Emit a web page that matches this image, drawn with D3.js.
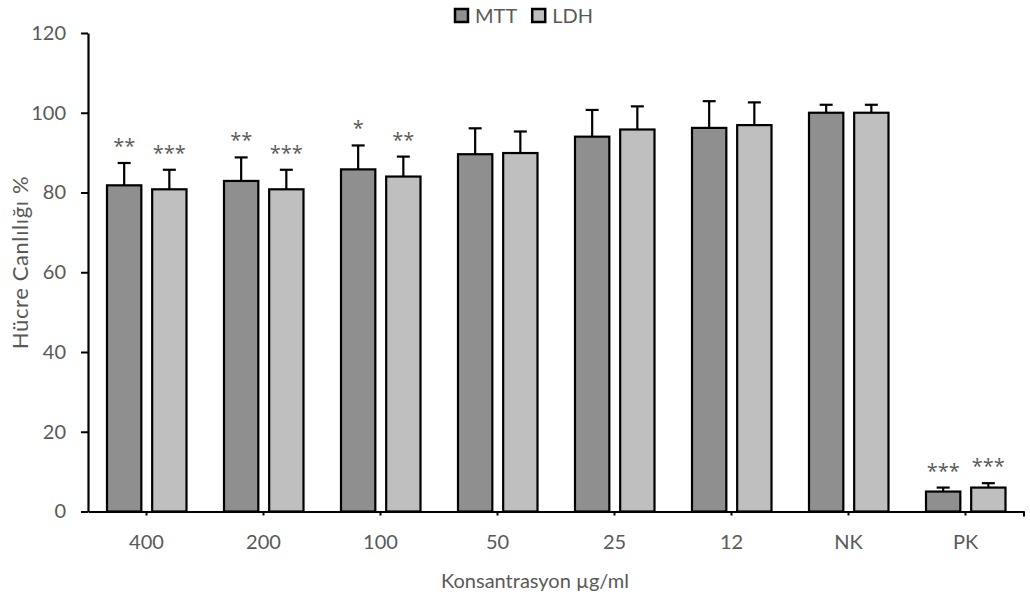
<!DOCTYPE html>
<html><head><meta charset="utf-8">
<script src="https://cdn.jsdelivr.net/npm/d3@7"></script>
<style>
html,body{margin:0;padding:0;background:#fff;}
text{font-family:Lato, "Open Sans", sans-serif;}
</style></head>
<body>
<svg id="chart" width="1030" height="602"></svg>
<script>
const categories = ["400","200","100","50","25","12","NK","PK"];
const seriesNames = ["MTT","LDH"];
const mttValues = [81.8, 82.9, 85.8, 89.6, 94.0, 96.2, 100, 5.0];
const mttErrors = [5.6, 5.9, 6.0, 6.5, 6.7, 6.7, 2.0, 1.0];
const ldhValues = [80.8, 80.8, 84.0, 89.9, 95.8, 96.9, 100, 6.0];
const ldhErrors = [4.9, 4.9, 5.0, 5.4, 5.8, 5.7, 2.0, 1.1];
const mttStars = ["**","**","*","","","","","***"];
const ldhStars = ["***","***","**","","","","","***"];
const yTicks = [0,20,40,60,80,100,120];
const yTitle = "Hücre Canlılığı %";
const xTitle = "Konsantrasyon µg/ml";

const colors = {MTT:"#8f8f8f", LDH:"#bfbfbf"};
const textColor = "#595959";

const rows = categories.map((c,i)=>({
  cat:c,
  items:[
    {s:"MTT", v:mttValues[i], e:mttErrors[i], star:mttStars[i]},
    {s:"LDH", v:ldhValues[i], e:ldhErrors[i], star:ldhStars[i]}
  ]
}));

const svg = d3.select("#chart");
const pLeft = 88, pRight = 1024, pTop = 33, pBottom = 511.5;

const x0 = d3.scaleBand().domain(categories).range([pLeft,pRight]).padding(0);
const x1 = d3.scaleBand().domain(seriesNames).range([19,98.5]).paddingInner(0.24).paddingOuter(0);
const y = d3.scaleLinear().domain([0,120]).range([pBottom,pTop]);

// bars
const g = svg.append("g");
const groups = g.selectAll("g.cat").data(rows).enter().append("g")
  .attr("transform", d=>`translate(${x0(d.cat)},0)`);

groups.selectAll("line.err").data(d=>d.items).enter().append("line")
  .attr("x1", d=>x1(d.s)+x1.bandwidth()/2)
  .attr("x2", d=>x1(d.s)+x1.bandwidth()/2)
  .attr("y1", d=>y(d.v))
  .attr("y2", d=>y(d.v+d.e))
  .attr("stroke","#000").attr("stroke-width",2.2);
groups.selectAll("line.cap").data(d=>d.items).enter().append("line")
  .attr("x1", d=>x1(d.s)+x1.bandwidth()/2-6.5)
  .attr("x2", d=>x1(d.s)+x1.bandwidth()/2+6.5)
  .attr("y1", d=>y(d.v+d.e))
  .attr("y2", d=>y(d.v+d.e))
  .attr("stroke","#000").attr("stroke-width",2.2);

groups.selectAll("rect").data(d=>d.items).enter().append("rect")
  .attr("x", d=>x1(d.s))
  .attr("width", x1.bandwidth())
  .attr("y", d=>y(d.v))
  .attr("height", d=>y(0)-y(d.v))
  .attr("fill", d=>colors[d.s])
  .attr("stroke","#000").attr("stroke-width",2.2);

groups.selectAll("text.star").data(d=>d.items.filter(it=>it.star)).enter().append("text")
  .attr("class","star")
  .attr("x", d=>x1(d.s)+x1.bandwidth()/2)
  .attr("y", d=>y(d.v+d.e)-10)
  .attr("text-anchor","middle")
  .attr("fill",textColor)
  .style("font-family","'Open Sans'")
  .style("font-size","20px")
  .text(d=>d.star);

// y axis
const yAxis = svg.append("g").attr("transform",`translate(${pLeft},0)`)
  .call(d3.axisLeft(y).tickValues(yTicks).tickSize(7).tickSizeOuter(0).tickPadding(15));
yAxis.select(".domain").attr("stroke","#000").attr("stroke-width",2.2);
yAxis.selectAll(".tick line").attr("stroke","#000").attr("stroke-width",2);
yAxis.selectAll(".tick text").attr("fill",textColor).style("font-size","20px").style("font-family","Lato");

// x axis
const xAxis = svg.append("g").attr("transform",`translate(0,${pBottom})`)
  .call(d3.axisBottom(x0).tickSize(4).tickSizeOuter(0).tickPadding(19));
xAxis.select(".domain").attr("stroke","#000").attr("stroke-width",2.2);
xAxis.selectAll(".tick line").attr("stroke","#000").attr("stroke-width",2);
xAxis.selectAll(".tick text").attr("fill",textColor).style("font-size","20px").style("font-family","Lato");
xAxis.append("line").attr("x1",pRight).attr("x2",pRight).attr("y1",0).attr("y2",5)
  .attr("stroke","#000").attr("stroke-width",2);

// titles
svg.append("text").attr("x",535).attr("y",588)
  .attr("text-anchor","middle").attr("fill",textColor).style("font-size","20px")
  .text(xTitle);
svg.append("text").attr("transform",`translate(28,262.5) rotate(-90)`)
  .attr("text-anchor","middle").attr("fill",textColor).style("font-size","22px")
  .style("letter-spacing","0.6px")
  .text(yTitle);

// legend
const legend = svg.append("g").attr("transform","translate(455,9)");
let lx = 0;
seriesNames.forEach(s=>{
  const it = legend.append("g").attr("transform",`translate(${lx},0)`);
  it.append("rect").attr("width",13).attr("height",13).attr("fill",colors[s])
    .attr("stroke","#000").attr("stroke-width",2.5);
  const t = it.append("text").attr("x",20).attr("y",14).attr("fill",textColor)
    .style("font-size","20px").text(s);
  lx += 20 + t.node().getComputedTextLength() + 15;
});
</script>
</body></html>
